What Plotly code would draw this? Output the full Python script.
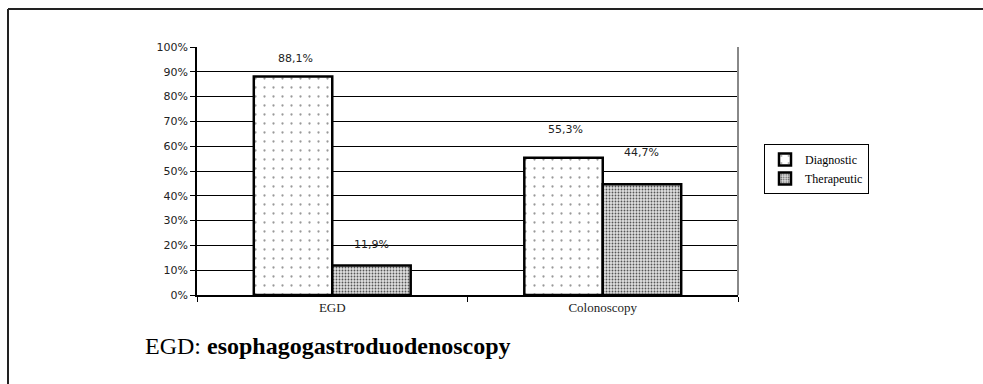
import plotly.graph_objects as go

categories = ["EGD", "Colonoscopy"]
diagnostic = [88.1, 55.3]
therapeutic = [11.9, 44.7]
diag_labels = ["88,1%", "55,3%"]
ther_labels = ["11,9%", "44,7%"]
y_ticks = list(range(0, 101, 10))
y_tick_labels = [f"{v}%" for v in y_ticks]

W, H = 983, 384
L, R, T, B = 197, 245, 47, 89
pw, ph = W - L - R, H - T - B

def px_x(x):
    return (x - L) / pw

def px_y(y):
    return (H - B - y) / ph

fig = go.Figure()
fig.add_trace(go.Bar(
    name="Diagnostic", x=categories, y=diagnostic,
    marker=dict(color="white", line=dict(color="black", width=2.5),
                pattern=dict(shape=".", size=9, solidity=0.05,
                             fgcolor="#333", bgcolor="white", fillmode="overlay")),
))
fig.add_trace(go.Bar(
    name="Therapeutic", x=categories, y=therapeutic,
    marker=dict(color="#e0e0e0", line=dict(color="black", width=2.5),
                pattern=dict(shape=".", size=3, solidity=0.3,
                             fgcolor="#555", bgcolor="#e0e0e0", fillmode="replace")),
))

label_font = dict(family="DejaVu Sans", size=11, color="#222")
annotations = []
# value labels above each bar, offset from the bar top
for i, cat in enumerate(categories):
    annotations.append(dict(x=cat, y=diagnostic[i], text=diag_labels[i], showarrow=False,
                            xref="x", yref="y", xshift=-37, yshift=[18, 28][i],
                            font=label_font))
    annotations.append(dict(x=cat, y=therapeutic[i], text=ther_labels[i], showarrow=False,
                            xref="x", yref="y", xshift=39, yshift=[21, 32][i],
                            font=label_font))
annotations.append(dict(
    x=px_x(143), y=px_y(346), xref="paper", yref="paper", xanchor="left", yanchor="middle",
    text="EGD: <b>esophagogastroduodenoscopy</b>", showarrow=False,
    font=dict(family="Liberation Serif", size=24, color="black")))

shapes = [
    dict(type="line", xref="paper", yref="paper", x0=px_x(8), x1=px_x(990),
         y0=px_y(9), y1=px_y(9), line=dict(color="#222", width=2)),
    dict(type="line", xref="paper", yref="paper", x0=px_x(8), x1=px_x(8),
         y0=px_y(9), y1=px_y(400), line=dict(color="#222", width=2)),
    dict(type="line", xref="paper", yref="paper", x0=1, x1=1, y0=0, y1=1,
         line=dict(color="#888", width=2)),
]

fig.update_layout(
    width=W, height=H,
    margin=dict(l=L, r=R, t=T, b=B),
    paper_bgcolor="white", plot_bgcolor="white",
    barmode="group", bargap=0.42, bargroupgap=0,
    showlegend=True,
    legend=dict(x=px_x(764), y=px_y(144), xanchor="left", yanchor="top",
                bordercolor="black", borderwidth=1, bgcolor="white",
                font=dict(family="Liberation Serif", size=12, color="black"),
                itemwidth=30, tracegroupgap=4),
    annotations=annotations,
    shapes=shapes,
    xaxis=dict(showline=True, linecolor="black", linewidth=1.5,
               ticks="outside", tickson="boundaries", ticklen=5, tickcolor="black",
               tickfont=dict(family="Liberation Serif", size=13, color="#222"),
               showgrid=False),
    yaxis=dict(range=[0, 100], tickvals=y_ticks, ticktext=y_tick_labels,
               showline=True, linecolor="black", linewidth=1.5,
               ticks="outside", ticklen=5, tickcolor="black",
               tickfont=dict(family="DejaVu Sans", size=11, color="#222"),
               showgrid=True, gridcolor="black", gridwidth=1, zeroline=False),
)

fig.write_html("out.html")
